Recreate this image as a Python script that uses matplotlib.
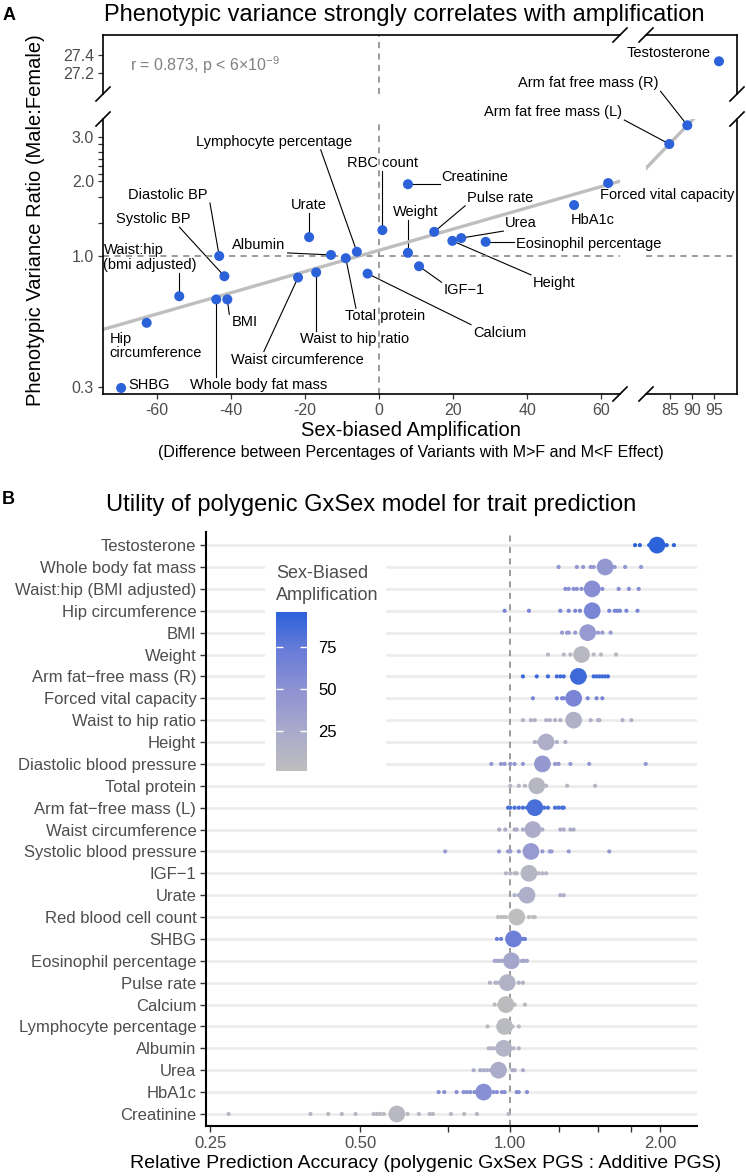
import matplotlib
matplotlib.use('Agg')
import matplotlib.pyplot as plt
import numpy as np
from matplotlib.colors import LinearSegmentedColormap, Normalize
from matplotlib.cm import ScalarMappable
from matplotlib.lines import Line2D
from matplotlib.patches import Rectangle
from matplotlib.ticker import NullLocator, NullFormatter

plt.rcParams['font.family'] = ['Liberation Sans', 'DejaVu Sans']
plt.rcParams['mathtext.fontset'] = 'custom'
plt.rcParams['mathtext.rm'] = 'Liberation Sans'

W, H = 746, 1176

# ---------------- panel A data ----------------
traits_a = ['Testosterone', 'Arm fat free mass (R)', 'Arm fat free mass (L)',
            'Forced vital capacity', 'HbA1c', 'Creatinine', 'Pulse rate', 'Urea',
            'Eosinophil percentage', 'Height', 'IGF\u22121', 'Calcium', 'Weight',
            'RBC count', 'Lymphocyte percentage', 'Urate', 'Diastolic BP',
            'Systolic BP', 'Albumin', 'Waist:hip\n(bmi adjusted)', 'Hip\ncircumference',
            'SHBG', 'Whole body fat mass', 'BMI', 'Waist circumference',
            'Waist to hip ratio', 'Total protein']
amp_a = [96.1, 88.9, 84.8, 61.9, 52.7, 7.8, 14.9, 22.2, 28.8, 19.8, 10.8, -3.1,
         7.8, 0.9, -6.0, -18.9, -43.2, -41.8, -13.0, -54.0, -62.8, -69.7, -44.0,
         -41.0, -21.9, -17.0, -9.0]
ratio_a = [27.33, 3.34, 2.81, 1.96, 1.60, 1.94, 1.25, 1.18, 1.14, 1.15, 0.91, 0.85,
           1.03, 1.27, 1.04, 1.19, 1.00, 0.83, 1.01, 0.69, 0.54, 0.296, 0.67, 0.67,
           0.82, 0.86, 0.98]

# ---------------- panel B data ----------------
traits_b = ['Testosterone', 'Whole body fat mass', 'Waist:hip (BMI adjusted)',
            'Hip circumference', 'BMI', 'Weight', 'Arm fat\u2212free mass (R)',
            'Forced vital capacity', 'Waist to hip ratio', 'Height',
            'Diastolic blood pressure', 'Total protein', 'Arm fat\u2212free mass (L)',
            'Waist circumference', 'Systolic blood pressure', 'IGF\u22121', 'Urate',
            'Red blood cell count', 'SHBG', 'Eosinophil percentage', 'Pulse rate',
            'Calcium', 'Lymphocyte percentage', 'Albumin', 'Urea', 'HbA1c', 'Creatinine']
amp_b = [96.1, -44.0, -54.0, -62.8, -41.0, 7.8, 88.9, 61.9, -17.0, 19.8, -43.2, -9.0,
         84.8, -21.9, -41.8, 10.8, -18.9, 0.9, -69.7, 28.8, 14.9, -3.1, -6.0, -13.0,
         22.2, 52.7, 7.8]
mean_b = [1.97, 1.55, 1.46, 1.46, 1.43, 1.39, 1.37, 1.34, 1.34, 1.18, 1.16, 1.13,
          1.12, 1.11, 1.10, 1.09, 1.08, 1.03, 1.015, 1.005, 0.986, 0.98, 0.974, 0.97,
          0.947, 0.884, 0.592]
reps_b = [
    [1.78, 1.82, 1.90, 2.06, 2.13],
    [1.25, 1.36, 1.40, 1.45, 1.47, 1.62, 1.70, 1.83],
    [1.29, 1.31, 1.34, 1.36, 1.39, 1.53, 1.65, 1.73, 1.81],
    [0.974, 1.09, 1.26, 1.31, 1.35, 1.38, 1.58, 1.62, 1.64, 1.66, 1.71, 1.80],
    [1.27, 1.30, 1.31, 1.35, 1.50, 1.53, 1.59],
    [1.19, 1.28, 1.32, 1.47, 1.52, 1.63],
    [1.06, 1.13, 1.19, 1.24, 1.26, 1.28, 1.33, 1.41, 1.47, 1.49, 1.51, 1.53, 1.55, 1.57],
    [1.11, 1.24, 1.27, 1.28, 1.43, 1.49, 1.53],
    [1.06, 1.10, 1.12, 1.18, 1.20, 1.23, 1.26, 1.45, 1.50, 1.51, 1.68, 1.75],
    [1.12, 1.14, 1.24, 1.29],
    [0.916, 0.958, 0.974, 1.0, 1.02, 1.06, 1.23, 1.25, 1.32, 1.44, 1.87],
    [1.0, 1.04, 1.07, 1.18, 1.30, 1.48],
    [0.99, 1.0, 1.02, 1.04, 1.06, 1.08, 1.17, 1.19, 1.23, 1.25, 1.27, 1.28],
    [0.95, 0.977, 1.02, 1.03, 1.06, 1.16, 1.26, 1.28, 1.32, 1.34],
    [0.74, 0.949, 0.99, 1.0, 1.04, 1.16, 1.20, 1.21, 1.31, 1.58],
    [0.98, 1.0, 1.02, 1.03, 1.14, 1.16, 1.18],
    [1.02, 1.04, 1.26, 1.28],
    [0.945, 0.958, 0.97, 0.98, 1.09, 1.11, 1.12],
    [0.94, 0.958, 1.06, 1.07],
    [0.93, 0.94, 0.95, 0.96, 1.055, 1.066, 1.08],
    [0.91, 0.933, 0.943, 1.04, 1.06],
    [0.93, 0.95, 1.02, 1.07],
    [0.90, 0.955, 1.01, 1.04],
    [0.905, 0.916, 0.926, 1.015, 1.04],
    [0.844, 0.87, 0.884, 0.898, 0.912, 1.01, 1.02, 1.06],
    [0.718, 0.737, 0.78, 0.806, 0.818, 0.831, 0.847, 0.926, 0.94, 0.962, 0.974,
     1.03, 1.04, 1.08],
    [0.272, 0.397, 0.431, 0.459, 0.489, 0.532, 0.54, 0.548, 0.557, 0.622, 0.655,
     0.689, 0.699, 0.76, 0.808, 0.857, 0.992],
]

# label offsets in pixels (text centre minus point, y downward)
label_off = {
    'Testosterone': (-50, -8), 'Arm fat free mass (R)': (-99, -42),
    'Arm fat free mass (L)': (-116, -32), 'Forced vital capacity': (59, 12),
    'HbA1c': (19, 15), 'Creatinine': (67, -7), 'Pulse rate': (66, -34),
    'Urea': (60, -15), 'Eosinophil percentage': (103, 2), 'Height': (102, 42),
    'IGF\u22121': (45, 24), 'Calcium': (132, 59), 'Weight': (8, -41),
    'RBC count': (0, -67), 'Lymphocyte percentage': (-83, -110), 'Urate': (0, -32),
    'Diastolic BP': (-51, -61), 'Systolic BP': (-71, -57), 'Albumin': (-72, -10),
    'Waist:hip\n(bmi adjusted)': (-29, -39), 'Hip\ncircumference': (9, 23),
    'SHBG': (28, -3), 'Whole body fat mass': (42, 86), 'BMI': (17, 23),
    'Waist circumference': (-1, 82), 'Waist to hip ratio': (38, 67),
    'Total protein': (39, 58),
}
# where a leader segment leaves its label (fraction of label box, from bottom-left)
seg_anchor = {
    'Lymphocyte percentage': (0.8, 0.0), 'Waist circumference': (0.25, 1.0),
    'Systolic BP': (0.85, 0.0), 'Total protein': (0.14, 1.0),
}

blue = '#2B62DA'
grey_txt = '#4D4D4D'
dash_col = '#808080'

fig = plt.figure(figsize=(W / 100, H / 100), dpi=100)


def fax(x0, y0, x1, y1):
    return fig.add_axes([x0 / W, 1 - y1 / H, (x1 - x0) / W, (y1 - y0) / H])


def fline(xs, ys, **kw):
    # line in image pixel coordinates (y downward)
    ln = Line2D([x / W for x in xs], [1 - y / H for y in ys],
                transform=fig.transFigure, **kw)
    fig.add_artist(ln)


ax_ll = fax(103, 119, 620, 394)
ax_lr = fax(646, 119, 737, 394)
ax_ul = fax(103, 35, 620, 94)
ax_ur = fax(646, 35, 737, 94)
panels = [ax_ll, ax_lr, ax_ul, ax_ur]

for ax in panels:
    ax.set_facecolor('none')
    for s in ax.spines.values():
        s.set_linewidth(1.2)
        s.set_visible(False)
    ax.tick_params(length=3.5, width=0.9, color='#333333', labelcolor=grey_txt,
                   labelsize=11.5, pad=3)

for ax in (ax_ll, ax_lr):
    ax.set_yscale('log')
    ax.set_ylim(0.28, 3.54)
for ax in (ax_ul, ax_ur):
    ax.set_ylim(26.967, 27.622)
for ax in (ax_ll, ax_ul):
    ax.set_xlim(-74.6, 65.1)
for ax in (ax_lr, ax_ur):
    ax.set_xlim(79.5, 100.2)

ax_ll.spines['left'].set_visible(True)
ax_ll.spines['bottom'].set_visible(True)
ax_lr.spines['bottom'].set_visible(True)
ax_lr.spines['right'].set_visible(True)
ax_ul.spines['left'].set_visible(True)
ax_ul.spines['top'].set_visible(True)
ax_ur.spines['top'].set_visible(True)
ax_ur.spines['right'].set_visible(True)

ax_ll.set_xticks([-60, -40, -20, 0, 20, 40, 60])
ax_ll.set_xticklabels(['-60', '-40', '-20', '0', '20', '40', '60'])
ax_ll.yaxis.set_minor_locator(NullLocator())
ax_ll.set_yticks([0.3, 1.0, 2.0, 3.0])
ax_ll.set_yticklabels(['0.3', '1.0', '2.0', '3.0'])
ax_ll.set_yticks([1.36, 1.72, 2.14, 2.29, 2.45, 2.62, 2.80], minor=True)
ax_ll.yaxis.set_minor_formatter(NullFormatter())
ax_ll.tick_params(which='minor', length=3.5, width=0.9, color='#333333')
ax_lr.set_xticks([85, 90, 95])
ax_lr.yaxis.set_minor_locator(NullLocator())
ax_lr.set_yticks([])
ax_ul.set_xticks([])
ax_ul.set_yticks([27.2, 27.4])
ax_ur.set_xticks([])
ax_ur.set_yticks([])

amp_arr = np.array(amp_a)
rat_arr = np.array(ratio_a)

# reference lines
for ax in (ax_ll, ax_ul):
    ax.axvline(0, color=dash_col, lw=1.1, ls=(0, (4, 3.5)), zorder=1)
for ax in (ax_ll, ax_lr):
    ax.axhline(1.0, color=dash_col, lw=1.1, ls=(0, (4, 3.5)), zorder=1)

# fitted trend lines
left = (amp_arr < 70) & (rat_arr < 10)
k, b = np.polyfit(amp_arr[left], np.log10(rat_arr[left]), 1)
xs = np.array(ax_ll.get_xlim())
ax_ll.plot(xs, 10 ** (k * xs + b), color='#BEBEBE', lw=2.4, zorder=2)
right = (amp_arr > 70) & (rat_arr < 10)
k2, b2 = np.polyfit(amp_arr[right], np.log10(rat_arr[right]), 1)
xs2 = np.array([ax_lr.get_xlim()[0], amp_arr[right].max() + 1.3])
ax_lr.plot(xs2, 10 ** (k2 * xs2 + b2), color='#BEBEBE', lw=2.4, zorder=2)

for ax in panels:
    ax.scatter(amp_a, ratio_a, s=52, color=blue, edgecolors='none', zorder=4)

# break marks
for cx, cy in [(620, 394), (646, 394), (620, 35), (646, 35),
               (103, 94), (103, 119), (737, 94), (737, 119)]:
    fline([cx - 7, cx + 7], [cy + 7, cy - 7], color='black', lw=1.2)

# labels with leader segments
texts = []
for name, x, y in zip(traits_a, amp_a, ratio_a):
    if x > 70:
        ax = ax_ur if y > 10 else ax_lr
    else:
        ax = ax_ul if y > 10 else ax_ll
    px, py = ax.transData.transform((x, y))
    dx, dy = label_off[name]
    t = fig.text((px + dx) / W, (py - dy) / H, name, ha='center', va='center',
                 fontsize=10.5, multialignment='left', linespacing=1.05, zorder=5)
    texts.append((name, t, px, py))

fig.canvas.draw()
rend = fig.canvas.get_renderer()
for name, t, px, py in texts:
    bb = t.get_window_extent(rend)
    if name in seg_anchor:
        fx, fy = seg_anchor[name]
        nx = bb.x0 + fx * bb.width
        ny = bb.y0 - 1 + fy * (bb.height + 2)
    else:
        nx = min(max(px, bb.x0 - 2), bb.x1 + 2)
        ny = min(max(py, bb.y0 - 1), bb.y1 + 1)
    if np.hypot(nx - px, ny - py) > 12:
        fig.add_artist(Line2D([nx / W, px / W], [ny / H, py / H],
                              transform=fig.transFigure, color='black', lw=0.8,
                              zorder=-1))

fig.text(130 / W, 1 - 65 / H, r'r = 0.873, p < 6$\times$10$^{-9}$', color='#808080',
         fontsize=11.5, ha='left', va='center')
fig.text(404 / W, 1 - 15 / H, 'Phenotypic variance strongly correlates with amplification',
         fontsize=17, ha='center', va='center')
fig.text(9 / W, 1 - 16 / H, 'A', fontsize=13, fontweight='bold', ha='center', va='center')
fig.text(36 / W, 1 - 220 / H, 'Phenotypic Variance Ratio (Male:Female)', fontsize=14.5,
         rotation=90, ha='center', va='center')
fig.text(411 / W, 1 - 430 / H, 'Sex-biased Amplification', fontsize=14.5,
         ha='center', va='center')
fig.text(411 / W, 1 - 452 / H,
         '(Difference between Percentages of Variants with M>F and M<F Effect)',
         fontsize=11.5, ha='center', va='center')

# ---------------- panel B ----------------
cmap = LinearSegmentedColormap.from_list(
    'amp', ['#BEBEBE', '#A9AACB', '#8F93D2', '#6A7DD8', '#2C62DA'])
abs_b = np.abs(amp_b)
norm = Normalize(np.abs(amp_a).min(), np.abs(amp_a).max())

ax_b = fax(206, 532, 697, 1126)
ax_b.set_xscale('log', base=2)
ax_b.set_xlim(0.245, 2.37)
ax_b.set_ylim(26.55, -0.6)
for s in ('top', 'right'):
    ax_b.spines[s].set_visible(False)
for s in ('left', 'bottom'):
    ax_b.spines[s].set_linewidth(1.5)

rows = np.arange(len(traits_b))
for r in rows:
    ax_b.axhline(r, color='#EBEBEB', lw=1.8, zorder=0)
ax_b.axvline(1.0, color=dash_col, lw=1.1, ls=(0, (4, 3.5)), zorder=1)

for r, vals, m, a in zip(rows, reps_b, mean_b, abs_b):
    c = cmap(norm(a))
    ax_b.scatter(vals, [r] * len(vals), s=9, color=c, edgecolors='none', zorder=3)
    ax_b.scatter([m], [r], s=145, color=c, edgecolors='none', zorder=4)

ax_b.set_yticks(rows)
ax_b.set_yticklabels(traits_b)
ax_b.set_xticks([0.25, 0.5, 1.0, 2.0])
ax_b.set_xticklabels(['0.25', '0.50', '1.00', '2.00'])
ax_b.set_xticks([0.75, 1.25, 1.5, 1.75], minor=True)
ax_b.xaxis.set_minor_formatter(NullFormatter())
ax_b.tick_params(which='both', length=4, width=1, color='#333333', labelcolor=grey_txt,
                 labelsize=12, pad=3)

# legend box
ax_b.add_patch(Rectangle((265 / W, 1 - 775 / H), 121 / W, 220 / H, transform=fig.transFigure,
                         facecolor='white', edgecolor='none', zorder=1.5))
cax = fax(276, 612, 307, 771)
sm = ScalarMappable(norm=norm, cmap=cmap)
cb = fig.colorbar(sm, cax=cax)
cb.outline.set_visible(False)
cb.set_ticks([25, 50, 75])
cax.tick_params(left=True, right=True, direction='in', length=5, width=1,
                color='white', labelcolor='black', labelsize=12, pad=8)
fig.text(276 / W, 1 - 565 / H, 'Sex-Biased\nAmplification', fontsize=13, color=grey_txt,
         ha='left', va='top', linespacing=1.35)

fig.text(371 / W, 1 - 505 / H, 'Utility of polygenic GxSex model for trait prediction',
         fontsize=17, ha='center', va='center')
fig.text(8 / W, 1 - 500 / H, 'B', fontsize=13, fontweight='bold', ha='center', va='center')
fig.text(426 / W, 1 - 1163 / H,
         'Relative Prediction Accuracy (polygenic GxSex PGS : Additive PGS)',
         fontsize=14, ha='center', va='center')

fig.savefig('out.png', dpi=100)
